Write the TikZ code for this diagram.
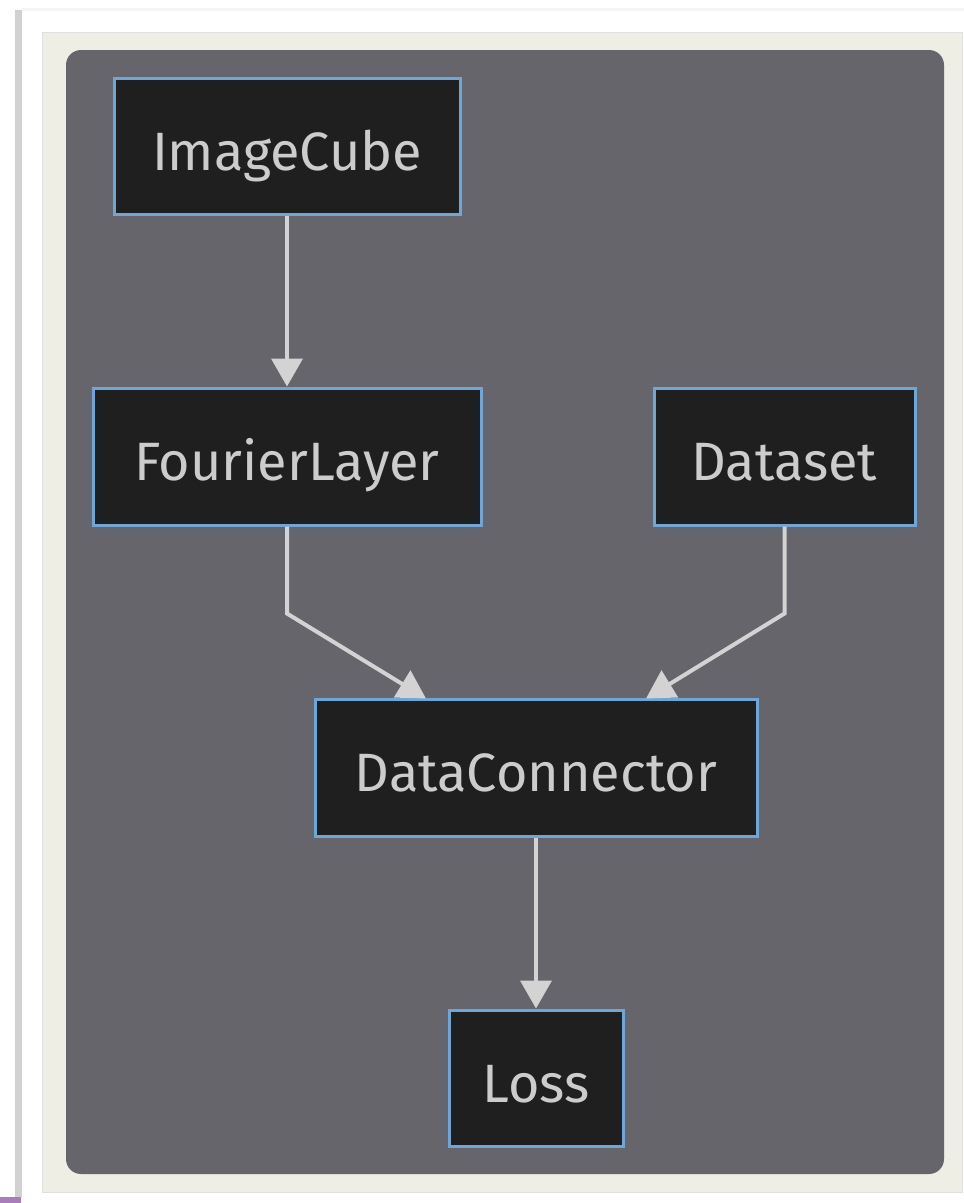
\documentclass[tikz,border=0pt]{standalone}
\usepackage{fontspec}
\setmainfont{Fira Sans}
\usetikzlibrary{arrows.meta,calc}
\definecolor{beige}{HTML}{EEEEE4}
\definecolor{panel}{HTML}{66656B}
\definecolor{nodefill}{HTML}{1F1F1F}
\definecolor{nodeline}{HTML}{6FA6D8}
\definecolor{edgecol}{HTML}{D3D3D3}
\definecolor{txtcol}{HTML}{CCCCCC}
\definecolor{purplebar}{HTML}{A97DB9}
\tikzset{
  box/.style={draw=nodeline, line width=3pt, fill=nodefill, text=txtcol,
    font=\fontsize{54}{60}\selectfont, inner sep=0pt, anchor=center,
    text height=60pt, text depth=12pt},
  edge/.style={draw=edgecol, line width=4pt,
    -{Triangle[length=28pt,width=31pt]}},
}
\begin{document}
\begin{tikzpicture}[x=1pt,y=-1pt]
\useasboundingbox (0,0) rectangle (964,1203);
\fill[white] (0,0) rectangle (964,1203);
% window shadow
\fill[black!18] (15,10) rectangle (22,1197);
\fill[black!4] (22,8) rectangle (964,11);
\fill[purplebar] (0,1197) rectangle (21,1203);
% beige canvas
\filldraw[fill=beige, draw=black!12, line width=0.8pt] (42,32) rectangle (962,1192);
% dark cluster panel
\fill[panel, rounded corners=15pt] (66,50) rectangle (944,1174);
% nodes
\node[box, minimum width=346pt, minimum height=136pt] (ic) at (287,146) {ImageCube};
\node[box, minimum width=388pt, minimum height=137pt] (fl) at (287,456.5) {FourierLayer};
\node[box, minimum width=261pt, minimum height=137pt] (ds) at (784.5,456.5) {Dataset};
\node[box, minimum width=442pt, minimum height=137pt] (dc) at (536,767.5) {DataConnector};
\node[box, minimum width=174pt, minimum height=136pt] (loss) at (536,1078) {Loss};
% edges
\draw[edge] (ic.south) -- (fl.north);
\draw[edge] (fl.south) -- ++(0,87) -- ($(dc.north)+(-110,1)$);
\draw[edge] (ds.south) -- ++(0,87) -- ($(dc.north)+(110,1)$);
\draw[edge] (dc.south) -- (loss.north);
\end{tikzpicture}
\end{document}
